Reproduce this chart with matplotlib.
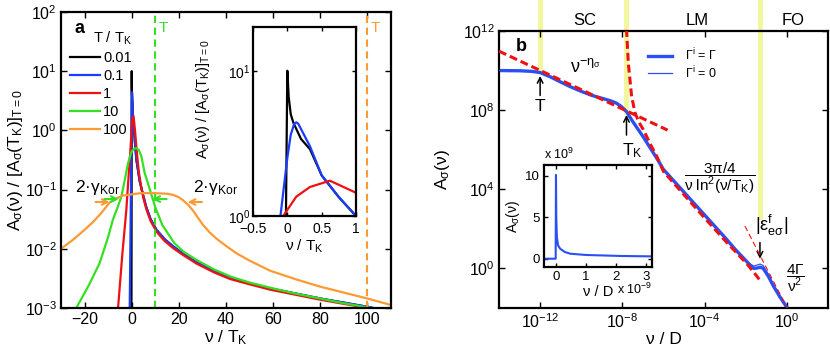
import numpy as np
import matplotlib
matplotlib.use('Agg')
import matplotlib.pyplot as plt
from matplotlib.ticker import NullLocator, FuncFormatter

plt.rcParams['font.family'] = ['Liberation Sans', 'DejaVu Sans']
plt.rcParams['mathtext.fontset'] = 'custom'
plt.rcParams['mathtext.rm'] = 'Liberation Sans'
plt.rcParams['mathtext.it'] = 'Liberation Sans:italic'
plt.rcParams['mathtext.bf'] = 'Liberation Sans:bold'
plt.rcParams['mathtext.default'] = 'regular'

# ---------------- panel a : A(nu)/[A(TK)]_{T=0} vs nu/TK (values are log10) -------------
tail_nu = [1.5, 2, 3.4, 5, 6.2, 8, 10.5, 14, 17.6, 22, 27.5, 35, 41.7, 50, 58.7, 70, 80, 90, 100, 106]
tail_log = [-0.27, -0.5, -0.86, -1.12, -1.3, -1.5, -1.68, -1.84, -1.96, -2.09, -2.23, -2.38,
            -2.49, -2.58, -2.67, -2.76, -2.84, -2.91, -2.98, -3.03]

black_nu = [-0.12, -0.05, -0.02, 0.0, 0.02, 0.05, 0.09, 0.13, 0.2, 0.33, 0.5, 0.75, 1.0] + tail_nu
black_log = [-3, -1.2, 0.0, 1.0, 0.82, 0.7, 0.64, 0.6, 0.53, 0.46, 0.28, 0.13, 0.0] + tail_log

blue_nu = [-0.85, -0.5, -0.25, -0.1, 0.0, 0.05, 0.1, 0.13, 0.16, 0.22, 0.33, 0.5, 0.75, 1.0] + tail_nu
blue_log = [-3, -1.7, -0.7, 0.0, 0.4, 0.56, 0.635, 0.645, 0.635, 0.58, 0.48, 0.28, 0.13, 0.0] + tail_log

red_nu = [-5.8, -4, -2.3, -1.2, -0.5, -0.06, 0.13, 0.33, 0.62, 1.0, 1.5, 2, 3, 4, 5, 6.2, 8,
          10.5, 14, 17.6, 22, 27.5, 35, 41.7, 50, 58.7, 70, 80, 90, 100, 106]
red_log = [-3, -2.1, -1.35, -0.7, -0.3, 0.0, 0.133, 0.2, 0.243, 0.16, -0.05, -0.3, -0.7, -0.95,
           -1.15, -1.33, -1.53, -1.71, -1.87, -1.99, -2.11, -2.25, -2.4, -2.51, -2.6, -2.69,
           -2.78, -2.86, -2.93, -3.0, -3.05]

green_nu = [-23.5, -18, -13.6, -10, -8, -6, -4.4, -3, -1.6, -0.1, 1.0, 2.0, 3.0, 4.1, 5.5, 7.7,
            10, 13, 18, 22, 28, 35, 42, 50, 59, 70, 80, 90, 100, 104]
green_log = [-3, -2.6, -2.24, -1.8, -1.51, -1.3, -1.12, -0.85, -0.56, -0.36, -0.31, -0.30, -0.33,
             -0.44, -0.72, -1.0, -1.3, -1.6, -1.9, -2.05, -2.2, -2.35, -2.47, -2.57, -2.66,
             -2.76, -2.84, -2.92, -2.99, -3.02]

orange_nu = [-30, -25, -20, -16.5, -13, -9.4, -6, -3.7, 0, 4, 10, 15, 17.6, 20, 21.8, 24, 26.1,
             28, 30.3, 33, 36, 40.3, 44.6, 50, 58.7, 70, 80, 90, 100, 110]
orange_log = [-2.0, -1.85, -1.68, -1.55, -1.4, -1.22, -1.14, -1.1, -1.08, -1.06, -1.06, -1.07,
              -1.09, -1.13, -1.18, -1.26, -1.36, -1.47, -1.6, -1.72, -1.83, -1.96, -2.08, -2.2,
              -2.37, -2.52, -2.64, -2.74, -2.84, -2.95]

T_labels = ['0.01', '0.1', '1', '10', '100']
colors_a = ['#000000', '#1a3cff', '#ee1111', '#33e022', '#ff9933']
T_green = 10
T_orange = 100

# ---------------- panel b : A(nu) vs nu/D (log10 values) ----------------
b_thick_lx = [-14, -13, -12.4, -12.0, -11.5, -11, -10.5, -10, -9.5, -9, -8.6, -8.3, -8.05,
              -7.8, -7.5, -7.0, -6.34, -6.0, -5.0, -4.0, -3.0, -2.5, -2.0, -1.75, -1.6, -1.45,
              -1.3, -1.15, -0.9, -0.66, -0.35, 0.0, 0.1]
b_thick_ly = [10.0, 9.99, 9.96, 9.9, 9.68, 9.42, 9.17, 8.95, 8.75, 8.6, 8.48, 8.36, 8.18,
              7.93, 7.43, 6.67, 5.59, 5.0, 3.85, 2.7, 1.55, 0.95, 0.4, 0.12, 0.0, 0.02, 0.06,
              0.0, -0.4, -0.88, -1.42, -1.97, -2.15]
b_thin_ly = [10.0, 9.99, 9.96, 9.9, 9.68, 9.42, 9.17, 8.95, 8.75, 8.6, 8.48, 8.36, 8.18,
             7.93, 7.43, 6.67, 5.59, 5.0, 3.85, 2.7, 1.55, 0.95, 0.42, 0.2, 0.12, 0.17, 0.22,
             0.14, -0.3, -0.82, -1.38, -1.95, -2.15]

pow_lx = [-14, -5.8]
pow_ly = [10.98, 6.99]
log_lx = [-7.8, -7.71, -7.55, -7.38, -7.2, -6.98, -6.6, -6.33, -6.0, -5.0, -4.0, -3.0, -2.44,
          -1.9, -1.47, -1.23]
log_ly = [12.1, 10.37, 8.69, 7.85, 7.4, 7.01, 6.2, 5.67, 4.9, 3.72, 2.55, 1.4, 0.78, 0.18,
          -0.38, -0.71]
sq_lx = [-2.04, 0.01]
sq_ly = [2.14, -1.99]

T_b = -12.0
TK_b = -7.8
eps_b = -1.31

# inset b (nu in 1e-9 D, A in 1e9)
ib_nu = [-0.4, -0.01, 0.0, 0.01, 0.03, 0.07, 0.14, 0.3, 0.48, 1.0, 2.15, 3.2]
ib_A = [0.0, 0.0, 10.1, 5.0, 2.6, 1.6, 1.2, 0.8, 0.6, 0.45, 0.33, 0.28]

fig = plt.figure(figsize=(8.3, 3.55), dpi=100)


def style(ax, fs=11.5, ln=4):
    ax.tick_params(direction='in', which='both', top=True, right=True, length=ln, width=1,
                   labelsize=fs, pad=3)
    for s in ax.spines.values():
        s.set_linewidth(1.6)


minus = FuncFormatter(lambda v, p: ('%g' % v).replace('-', '\u2212'))

# ---------- panel a ----------
ax = fig.add_axes([0.0735, 0.1324, 0.3976, 0.8338])
series = [(black_nu, black_log), (blue_nu, blue_log), (red_nu, red_log),
          (green_nu, green_log), (orange_nu, orange_log)]
for (x, y), c, lab in zip(series, colors_a, T_labels):
    ax.plot(x, 10 ** np.array(y), color=c, lw=1.6, label=lab)
ax.axvline(T_green, color='#33e022', lw=1.5, dashes=(3.5, 2.2))
ax.axvline(T_orange, color='#ff9933', lw=1.5, dashes=(3.5, 2.2))
ax.set_yscale('log')
ax.set_xlim(-30, 110)
ax.set_ylim(1e-3, 1e2)
ax.set_xticks([-20, 0, 20, 40, 60, 80, 100])
ax.set_yticks([1e-3, 1e-2, 1e-1, 1e0, 1e1, 1e2])
ax.yaxis.set_minor_locator(NullLocator())
ax.xaxis.set_major_formatter(minus)
style(ax)
ax.set_xlabel('ν / T$_K$', fontsize=12.5, labelpad=1)
ax.set_ylabel('A$_σ$(ν) / [A$_σ$(T$_K$)]$_{T=0}$', fontsize=12.5, labelpad=0)
ax.text(0.04, 0.945, 'a', transform=ax.transAxes, fontsize=13, fontweight='bold', va='center')
ax.text(11.5, 10 ** 1.73, 'T', color='#33e022', fontsize=11, va='center')
ax.text(101.5, 10 ** 1.73, 'T', color='#ff9933', fontsize=11, va='center')
leg = ax.legend(loc='upper left', bbox_to_anchor=(-0.005, 0.975), frameon=False, fontsize=10.5,
                title='T / T$_K$', title_fontsize=10.5, handlelength=2.1, handletextpad=0.2,
                labelspacing=0.28, borderpad=0.2)
leg._legend_box.align = 'right'
# 2*gamma_Kor annotations
ax.text(-14.5, 10 ** -0.96, '2·γ$_{Kor}$', fontsize=12.5, ha='center', va='center')
ax.text(35.5, 10 ** -0.96, '2·γ$_{Kor}$', fontsize=12.5, ha='center', va='center')
ap_o = dict(arrowstyle='->', color='#ff9933', lw=1.5)
ap_g = dict(arrowstyle='->', color='#33e022', lw=1.5)
ax.annotate('', xy=(-8.2, 10 ** -1.21), xytext=(-16.5, 10 ** -1.21), arrowprops=ap_o)
ax.annotate('', xy=(-4.3, 10 ** -1.16), xytext=(-12.8, 10 ** -1.16), arrowprops=ap_g)
ax.annotate('', xy=(7.5, 10 ** -1.16), xytext=(16, 10 ** -1.16), arrowprops=ap_g)
ax.annotate('', xy=(22.5, 10 ** -1.21), xytext=(31, 10 ** -1.21), arrowprops=ap_o)

# ---------- inset a ----------
axi = fig.add_axes([0.3048, 0.3915, 0.1241, 0.5324])
for (x, y), c in zip(series[:3], colors_a[:3]):
    axi.plot(x, 10 ** np.array(y), color=c, lw=1.6)
axi.set_yscale('log')
axi.set_xlim(-0.5, 1)
axi.set_ylim(1, 20)
axi.set_yticks([1, 10])
axi.yaxis.set_minor_locator(NullLocator())
axi.set_xticks([-0.5, 0, 0.5, 1])
axi.xaxis.set_major_formatter(minus)
style(axi, fs=10, ln=3)
axi.tick_params(axis='x', pad=4.5)
axi.tick_params(axis='y', pad=2)
axi.set_xlabel('ν / T$_K$', fontsize=11, labelpad=1)
axi.set_ylabel('A$_σ$(ν) / [A$_σ$(T$_K$)]$_{T=0}$', fontsize=10.5)
axi.yaxis.set_label_coords(-0.4, 0.62)

# ---------- panel b ----------
bx = fig.add_axes([0.6012, 0.1324, 0.3964, 0.7803])
bx.set_xscale('log')
bx.set_yscale('log')
bx.set_xlim(1e-14, 1e2)
bx.set_ylim(1e-2, 1e12)
yel = '#f3f79a'
for xm, ylow in [(T_b, 10.0), (TK_b, 7.93), (eps_b, 2.6)]:
    bx.plot([10 ** xm, 10 ** xm], [10 ** ylow, 10 ** 13.6], color=yel, lw=3.5, clip_on=False,
            zorder=0)
p = lambda a: 10 ** np.array(a)
bx.plot(p(b_thick_lx), p(b_thin_ly), color='#2a50f5', lw=0.9, label='Γ$^i$ = 0', zorder=3)
bx.plot(p(b_thick_lx), p(b_thick_ly), color='#2a50f5', lw=2.4, label='Γ$^i$ = Γ', zorder=2)
bx.plot(p(pow_lx), p(pow_ly), color='#ee1111', lw=2.2, dashes=(2.6, 1.3), zorder=4)
bx.plot(p(log_lx), p(log_ly), color='#ee1111', lw=2.2, dashes=(2.6, 1.3), zorder=4)
bx.plot(p(sq_lx), p(sq_ly), color='#ee1111', lw=0.8, dashes=(5, 3), zorder=4)
bx.set_xticks([1e-12, 1e-8, 1e-4, 1e0])
bx.set_yticks([1e0, 1e4, 1e8, 1e12])
bx.xaxis.set_minor_locator(NullLocator())
bx.yaxis.set_minor_locator(NullLocator())
style(bx)
bx.set_xlabel('ν / D', fontsize=12.5, labelpad=1)
bx.set_ylabel('A$_σ$(ν)', fontsize=12.5, labelpad=8)
h, l = bx.get_legend_handles_labels()
bx.legend(h[::-1], l[::-1], loc='upper left', bbox_to_anchor=(0.42, 0.985), frameon=False,
          fontsize=9, handlelength=1.9, handletextpad=1.0, labelspacing=0.1)
bx.text(0.05, 0.945, 'b', transform=bx.transAxes, fontsize=13, fontweight='bold', va='center')
for lab, xl in [('SC', -9.81), ('LM', -4.37), ('FO', 0.29)]:
    bx.text(10 ** xl, 10 ** 12.55, lab, fontsize=12, ha='center', va='center', clip_on=False)
ak = dict(arrowstyle='->', color='black', lw=1.1)
bx.annotate('', xy=(10 ** T_b, 10 ** 9.87), xytext=(10 ** T_b, 10 ** 8.6), arrowprops=ak)
bx.text(10 ** T_b, 10 ** 8.2, 'T', fontsize=12.5, ha='center', va='center')
bx.annotate('', xy=(10 ** TK_b, 10 ** 7.9), xytext=(10 ** TK_b, 10 ** 6.6), arrowprops=ak)
bx.text(10 ** -7.5, 10 ** 5.95, 'T$_K$', fontsize=12.5, ha='center', va='center')
bx.text(10 ** -9.81, 10 ** 10.2, 'ν$^{−η_σ}$', fontsize=13, ha='center', va='center')
bx.text(10 ** -3.25, 10 ** 4.55, r'$\dfrac{3π/4}{ν\ ln^2(ν/T_K)}$', fontsize=11, ha='center',
        va='center')
bx.text(10 ** -0.72, 10 ** 2.15, '|ε$^f_{eσ}$|', fontsize=13, ha='center', va='center')
bx.annotate('', xy=(10 ** eps_b, 10 ** 0.35), xytext=(10 ** eps_b, 10 ** 1.45), arrowprops=ak)
bx.text(10 ** 0.44, 10 ** -0.5, r'$\dfrac{4Γ}{ν^2}$', fontsize=11, ha='center', va='center')

# ---------- inset b ----------
bi = fig.add_axes([0.6554, 0.2479, 0.1301, 0.2873])
bi.plot(ib_nu, ib_A, color='#2a50f5', lw=1.5)
bi.set_xlim(-0.4, 3.2)
bi.set_ylim(-1, 11.3)
bi.set_xticks([0, 1, 2, 3])
bi.set_yticks([0, 5, 10])
style(bi, fs=9.5, ln=3)
bi.set_xlabel('ν / D', fontsize=10.5, labelpad=1)
bi.set_ylabel('A$_σ$(ν)', fontsize=10, labelpad=2)
bi.text(0.0, 1.03, 'x 10$^9$', transform=bi.transAxes, fontsize=9, va='bottom')
bi.text(0.68, -0.22, 'x 10$^{-9}$', transform=bi.transAxes, fontsize=9, va='center')

fig.savefig('out.png', dpi=100)
